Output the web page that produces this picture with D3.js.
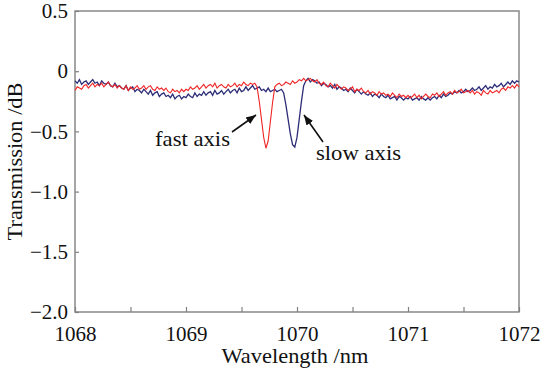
<!DOCTYPE html>
<html>
<head>
<meta charset="utf-8">
<script src="https://cdn.jsdelivr.net/npm/d3@7"></script>
<style>
  body { margin: 0; background: #fff; }
</style>
</head>
<body>
<svg id="chart"></svg>
<script>
const width = 541, height = 373;
const margin = {top: 11, right: 22, bottom: 61, left: 75};
const FONT = '"Liberation Serif", "Times New Roman", serif';

// wavelength grid, nm (0.02 nm steps)
const wavelengths = d3.range(0, 201).map(i => 1068 + i * 0.02);

// slow axis trace (blue), dB
const slowAxis = [
  -0.08,-0.10,-0.07,-0.11,-0.09,-0.08,-0.11,-0.09,-0.07,-0.10,
  -0.09,-0.12,-0.08,-0.10,-0.11,-0.09,-0.12,-0.13,-0.10,-0.13,
  -0.12,-0.14,-0.15,-0.12,-0.16,-0.14,-0.13,-0.17,-0.15,-0.16,
  -0.18,-0.15,-0.17,-0.19,-0.16,-0.20,-0.18,-0.17,-0.21,-0.19,
  -0.18,-0.21,-0.20,-0.22,-0.19,-0.23,-0.21,-0.20,-0.23,-0.21,
  -0.22,-0.19,-0.21,-0.22,-0.18,-0.21,-0.19,-0.20,-0.17,-0.20,
  -0.18,-0.17,-0.20,-0.16,-0.19,-0.18,-0.16,-0.19,-0.17,-0.15,
  -0.18,-0.16,-0.15,-0.18,-0.14,-0.17,-0.16,-0.13,-0.16,-0.14,
  -0.12,-0.15,-0.14,-0.13,-0.16,-0.15,-0.17,-0.14,-0.17,-0.16,
  -0.15,-0.17,-0.16,-0.15,-0.18,-0.28,-0.40,-0.52,-0.61,-0.63,
  -0.55,-0.40,-0.25,-0.12,-0.08,-0.06,-0.09,-0.07,-0.08,-0.10,
  -0.09,-0.12,-0.10,-0.11,-0.13,-0.12,-0.14,-0.11,-0.15,-0.13,
  -0.14,-0.16,-0.15,-0.17,-0.14,-0.16,-0.18,-0.15,-0.17,-0.19,
  -0.17,-0.19,-0.20,-0.18,-0.21,-0.19,-0.20,-0.22,-0.19,-0.21,
  -0.22,-0.20,-0.23,-0.22,-0.21,-0.24,-0.21,-0.22,-0.24,-0.22,
  -0.23,-0.21,-0.24,-0.23,-0.22,-0.24,-0.21,-0.23,-0.24,-0.22,
  -0.24,-0.22,-0.21,-0.23,-0.20,-0.22,-0.19,-0.21,-0.20,-0.18,
  -0.19,-0.17,-0.18,-0.16,-0.18,-0.17,-0.15,-0.17,-0.16,-0.14,
  -0.16,-0.15,-0.13,-0.16,-0.14,-0.12,-0.15,-0.13,-0.14,-0.11,
  -0.13,-0.12,-0.10,-0.13,-0.11,-0.09,-0.11,-0.08,-0.10,-0.08,
  -0.09
];

// fast axis trace (red), dB
const fastAxis = [
  -0.16,-0.13,-0.14,-0.15,-0.12,-0.11,-0.14,-0.12,-0.10,-0.13,
  -0.11,-0.12,-0.10,-0.13,-0.11,-0.09,-0.12,-0.13,-0.11,-0.14,
  -0.12,-0.14,-0.15,-0.12,-0.16,-0.13,-0.15,-0.14,-0.12,-0.15,
  -0.14,-0.12,-0.15,-0.13,-0.12,-0.15,-0.16,-0.13,-0.15,-0.14,
  -0.16,-0.14,-0.17,-0.18,-0.15,-0.17,-0.16,-0.18,-0.15,-0.17,
  -0.15,-0.16,-0.13,-0.15,-0.14,-0.12,-0.15,-0.13,-0.11,-0.14,
  -0.12,-0.11,-0.13,-0.10,-0.14,-0.12,-0.11,-0.13,-0.14,-0.11,
  -0.13,-0.12,-0.10,-0.13,-0.11,-0.12,-0.09,-0.11,-0.12,-0.10,
  -0.11,-0.10,-0.13,-0.25,-0.40,-0.55,-0.64,-0.58,-0.42,-0.26,
  -0.13,-0.11,-0.10,-0.12,-0.11,-0.09,-0.10,-0.11,-0.08,-0.10,
  -0.09,-0.07,-0.08,-0.06,-0.08,-0.07,-0.06,-0.08,-0.09,-0.07,
  -0.10,-0.11,-0.09,-0.12,-0.13,-0.10,-0.12,-0.14,-0.11,-0.13,
  -0.15,-0.13,-0.14,-0.16,-0.15,-0.13,-0.17,-0.15,-0.16,-0.14,
  -0.17,-0.18,-0.16,-0.19,-0.17,-0.18,-0.20,-0.17,-0.19,-0.18,
  -0.20,-0.19,-0.21,-0.18,-0.20,-0.22,-0.19,-0.21,-0.20,-0.22,
  -0.20,-0.22,-0.21,-0.19,-0.22,-0.20,-0.23,-0.21,-0.19,-0.21,
  -0.22,-0.19,-0.20,-0.18,-0.21,-0.19,-0.17,-0.20,-0.18,-0.17,
  -0.19,-0.16,-0.18,-0.17,-0.15,-0.18,-0.17,-0.16,-0.18,-0.16,
  -0.19,-0.17,-0.18,-0.20,-0.16,-0.18,-0.19,-0.16,-0.18,-0.17,
  -0.16,-0.18,-0.15,-0.14,-0.16,-0.13,-0.14,-0.12,-0.14,-0.11,
  -0.13
];

const xTicks = d3.range(0, 9).map(i => 1068 + i * 0.5);
const yTicks = [0.5, 0, -0.5, -1.0, -1.5, -2.0];

const svg = d3.select("#chart")
  .attr("width", width)
  .attr("height", height);

const x = d3.scaleLinear().domain([1068, 1072]).range([margin.left, width - margin.right]);
const y = d3.scaleLinear().domain([-2.0, 0.5]).range([height - margin.bottom, margin.top]);

const fmtY = d => d === 0 ? "0" : d3.format(".1f")(d).replace("-", "\u2212");

// axes
const xAxis = svg.append("g")
  .attr("transform", `translate(0,${height - margin.bottom})`)
  .call(d3.axisBottom(x).tickValues(xTicks).tickSizeInner(-5).tickSizeOuter(0)
    .tickPadding(10).tickFormat(d => Number.isInteger(d) ? d : ""));
const yAxis = svg.append("g")
  .attr("transform", `translate(${margin.left},0)`)
  .call(d3.axisLeft(y).tickValues(yTicks).tickSizeInner(-4).tickSizeOuter(0)
    .tickPadding(7).tickFormat(fmtY));

[xAxis, yAxis].forEach(a => {
  a.select(".domain").remove();
  a.selectAll(".tick line").attr("stroke", "#808080").attr("stroke-width", 1.2);
  a.selectAll("text").attr("font-size", 21).style("font-family", FONT).attr("fill", "#111");
});
xAxis.selectAll("text").attr("dy", "0.9em");

// frame
svg.append("rect")
  .attr("x", margin.left).attr("y", margin.top)
  .attr("width", width - margin.left - margin.right)
  .attr("height", height - margin.top - margin.bottom)
  .attr("fill", "none").attr("stroke", "#808080").attr("stroke-width", 1.4);

// traces
const line = d3.line().x((d, i) => x(wavelengths[i])).y(d => y(d));
svg.append("path").datum(slowAxis)
  .attr("d", line).attr("fill", "none")
  .attr("stroke", "#2d2d78").attr("stroke-width", 1.3);
svg.append("path").datum(fastAxis)
  .attr("d", line).attr("fill", "none")
  .attr("stroke", "#f02525").attr("stroke-width", 1.1);

// text helper (Computer Modern in the original runs wider than Times)
const label = (x0, y0, str, len, anchor) => svg.append("text")
  .attr("x", x0).attr("y", y0)
  .attr("text-anchor", anchor || "start")
  .attr("font-size", 21)
  .attr("textLength", len).attr("lengthAdjust", "spacingAndGlyphs")
  .style("font-family", FONT).attr("fill", "#111")
  .text(str);

// axis titles
label(295, 363, "Wavelength /nm", 147, "middle");
label(0, 0, "Transmission /dB", 158, "middle")
  .attr("transform", `translate(22,${(margin.top + height - margin.bottom) / 2}) rotate(-90)`);

// annotations
svg.append("defs").append("marker")
  .attr("id", "arrow").attr("viewBox", "0 0 10 10")
  .attr("refX", 10).attr("refY", 5)
  .attr("markerWidth", 10).attr("markerHeight", 10)
  .attr("markerUnits", "userSpaceOnUse")
  .attr("orient", "auto")
  .append("path").attr("d", "M0,1 L10,5 L0,9 Z").attr("fill", "#111");

label(155, 146, "fast axis", 75);
svg.append("line")
  .attr("x1", 232).attr("y1", 132).attr("x2", 256).attr("y2", 115)
  .attr("stroke", "#111").attr("stroke-width", 1.6).attr("marker-end", "url(#arrow)");

label(316, 160, "slow axis", 85);
svg.append("line")
  .attr("x1", 323).attr("y1", 142).attr("x2", 304).attr("y2", 115)
  .attr("stroke", "#111").attr("stroke-width", 1.6).attr("marker-end", "url(#arrow)");
</script>
</body>
</html>
